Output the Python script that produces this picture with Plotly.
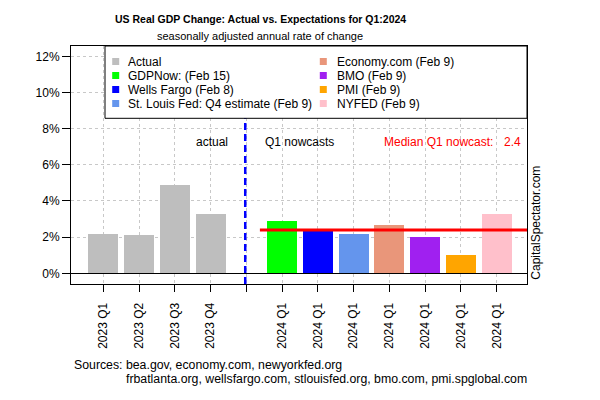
import numpy as np
import plotly.graph_objects as go

# ---- data ----
actual_labels = ["2023 Q1", "2023 Q2", "2023 Q3", "2023 Q4"]
actual_values = [2.2, 2.1, 4.9, 3.3]

nowcast_labels = ["2024 Q1"] * 7
nowcast_sources = ["GDPNow: (Feb 15)", "Wells Fargo (Feb 8)", "St. Louis Fed: Q4 estimate (Feb 9)",
                   "Economy.com (Feb 9)", "BMO (Feb 9)", "PMI (Feb 9)", "NYFED (Feb 9)"]
nowcast_values = [2.9, 2.4, 2.2, 2.7, 2.0, 1.0, 3.3]

y_ticks = [0, 2, 4, 6, 8, 10, 12]

# ---- styles ----
actual_color = "#BEBEBE"
nowcast_colors = ["#00FF00", "#0000FF", "#6495ED", "#E9967A", "#A020F0", "#FFA500", "#FFC0CB"]
FONT = "Liberation Sans, Arial, sans-serif"

median_val = float(np.median(nowcast_values))

x_actual = list(range(len(actual_values)))
gap_pos = len(actual_values)
x_now = [gap_pos + 1 + i for i in range(len(nowcast_values))]
tickvals = x_actual + [gap_pos] + x_now
ticktext = actual_labels + [""] + nowcast_labels

# pixel geometry (screen coordinates); page body has an 8px margin
OFF = 8
L, R, T, B = 71, 527, 46, 284
def px(x):
    return (x - L) / (R - L)
def py(y):
    return (B - y) / (B - T)

fig = go.Figure()
fig.add_trace(go.Bar(x=x_actual, y=actual_values, marker=dict(color=actual_color, line=dict(width=0)),
                     width=0.84, showlegend=False, hoverinfo="y"))
fig.add_trace(go.Bar(x=x_now, y=nowcast_values, marker=dict(color=nowcast_colors, line=dict(width=0)),
                     width=0.84, showlegend=False, hoverinfo="y"))

shapes = []
# dashed separator
shapes.append(dict(type="line", xref="x", yref="paper", x0=gap_pos - 0.03, x1=gap_pos - 0.03, y0=0, y1=1,
                   line=dict(color="#0000FF", width=2.5, dash="7px,4px"), layer="above"))
# median line
shapes.append(dict(type="line", xref="x", yref="y", x0=gap_pos + 0.38, x1=11.85, y0=median_val, y1=median_val,
                   line=dict(color="#FF0000", width=3), layer="above"))
# legend box
shapes.append(dict(type="rect", xref="paper", yref="paper", x0=px(105), x1=1, y0=py(118.3), y1=1,
                   fillcolor="white", line=dict(color="black", width=1), layer="above"))

annotations = []
# legend entries
legend_names = ["Actual"] + nowcast_sources
legend_cols = [actual_color] + nowcast_colors
order_left = [0, 1, 2, 3]
order_right = [4, 5, 6, 7]
rows_y = [61.5, 75.5, 89.5, 103.5]
for idxs, mx, tx in [(order_left, 115.7, 126), (order_right, 323.3, 335)]:
    for r, i in enumerate(idxs):
        yy = rows_y[r]
        shapes.append(dict(type="rect", xref="paper", yref="paper",
                           x0=px(mx - 3.5), x1=px(mx + 3.5), y0=py(yy + 3.5), y1=py(yy - 3.5),
                           fillcolor=legend_cols[i], line=dict(width=0), layer="above"))
        annotations.append(dict(xref="paper", yref="paper", x=px(tx), y=py(yy), text=legend_names[i],
                                showarrow=False, xanchor="left", yanchor="middle",
                                font=dict(size=12, color="black", family=FONT)))

# in-plot labels
annotations.append(dict(xref="x", yref="y", x=3.54, y=7.28, text="actual", showarrow=False,
                        xanchor="right", yanchor="middle", font=dict(size=12, color="black", family=FONT)))
annotations.append(dict(xref="x", yref="y", x=4.47, y=7.28, text="Q1 nowcasts", showarrow=False,
                        xanchor="left", yanchor="middle", font=dict(size=12, color="black", family=FONT)))
annotations.append(dict(xref="x", yref="y", x=7.79, y=7.28, text="Median Q1 nowcast:", showarrow=False,
                        xanchor="left", yanchor="middle", font=dict(size=12, color="#FF0000", family=FONT)))
annotations.append(dict(xref="x", yref="y", x=11.73, y=7.28, text=f"{median_val:.1f}", showarrow=False,
                        xanchor="right", yanchor="middle", font=dict(size=12, color="#FF0000", family=FONT)))

# titles
annotations.append(dict(xref="paper", yref="paper", x=px(260), y=py(19),
                        text="<b>US Real GDP Change: Actual vs. Expectations for Q1:2024</b>",
                        showarrow=False, xanchor="center", yanchor="middle",
                        font=dict(size=10.5, color="black", family=FONT)))
annotations.append(dict(xref="paper", yref="paper", x=px(260), y=py(36),
                        text="seasonally adjusted annual rate of change",
                        showarrow=False, xanchor="center", yanchor="middle",
                        font=dict(size=11, color="black", family=FONT)))
# sources
annotations.append(dict(xref="paper", yref="paper", x=px(71.7), y=py(365),
                        text="Sources: bea.gov, economy.com, newyorkfed.org",
                        showarrow=False, xanchor="left", yanchor="middle",
                        font=dict(size=12.3, color="black", family=FONT)))
annotations.append(dict(xref="paper", yref="paper", x=px(124.3), y=py(379),
                        text="frbatlanta.org, wellsfargo.com, stlouisfed.org, bmo.com, pmi.spglobal.com",
                        showarrow=False, xanchor="left", yanchor="middle",
                        font=dict(size=12.3, color="black", family=FONT)))
# watermark
annotations.append(dict(xref="paper", yref="paper", x=px(535.7), y=py(282),
                        text="CapitalSpectator.com", textangle=-90,
                        showarrow=False, xanchor="center", yanchor="bottom",
                        font=dict(size=12, color="black", family=FONT)))

fig.update_layout(
    width=600 - OFF, height=400 - OFF,
    margin=dict(l=L - OFF, r=600 - R, t=T - OFF, b=400 - B, pad=0, autoexpand=False),
    paper_bgcolor="white", plot_bgcolor="white",
    font=dict(family=FONT, size=12, color="black"),
    bargap=0, showlegend=False,
    shapes=shapes, annotations=annotations,
    xaxis=dict(range=[-0.903, 11.85], tickmode="array", tickvals=tickvals, ticktext=ticktext,
               tickangle=-90, ticks="outside", ticklen=7, tickcolor="black", tickwidth=1,
               showgrid=True, gridcolor="#C8C8C8", griddash="dot", gridwidth=1,
               showline=True, linecolor="black", linewidth=1, mirror=True, zeroline=False,
               ticklabelstandoff=6, tickfont=dict(size=12, color="black"), automargin=False),
    yaxis=dict(range=[-0.59, 12.57], tickmode="array", tickvals=y_ticks,
               ticktext=[f"{v}%" for v in y_ticks],
               ticks="outside", ticklen=8, tickcolor="black", tickwidth=1,
               showgrid=True, gridcolor="#C8C8C8", griddash="dot", gridwidth=1,
               showline=True, linecolor="black", linewidth=1, mirror=True,
               zeroline=True, zerolinecolor="black", zerolinewidth=1,
               tickfont=dict(size=12, color="black"), automargin=False),
)

fig.write_html("out.html")
